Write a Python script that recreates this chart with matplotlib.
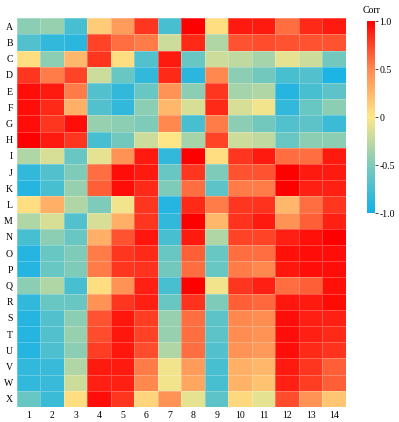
import numpy as np
import matplotlib.pyplot as plt
from matplotlib.colors import LinearSegmentedColormap

rows = list("ABCDEFGHIJKLMNOPQRSTUVWX")
cols = [str(i) for i in range(1, 15)]

A = [-0.45, -0.4, -0.75, 0.15, 0.4, 0.8, -0.75, 1.0, 0.05, 0.9, 0.9, 0.6, 0.85, 0.9]
B = [-0.7, -0.85, -0.88, 0.75, 0.6, 0.55, -0.2, 0.85, -0.3, 0.7, 0.72, 0.7, 0.7, 0.7]
C = [0.05, -0.45, 0.25, 0.8, 0.05, -0.7, 0.9, -0.6, -0.2, -0.25, -0.35, -0.1, -0.2, -0.55]
D = [0.8, 0.55, 0.75, -0.2, -0.6, -0.85, 0.85, -0.88, 0.5, -0.45, -0.55, -0.75, -0.7, -0.95]
E = [0.95, 0.9, 0.55, -0.7, -0.85, -0.6, 0.45, -0.45, 0.8, -0.35, -0.3, -0.9, -0.75, -0.65]
F = [0.95, 0.85, 0.3, -0.7, -0.85, -0.45, 0.25, -0.15, 0.85, -0.15, -0.05, -0.85, -0.6, -0.45]
G = [0.95, 0.8, 0.95, -0.4, -0.45, -0.5, 0.5, -0.75, 0.55, -0.45, -0.55, -0.7, -0.65, -0.8]
H = [1.0, 0.9, 0.8, -0.75, -0.55, -0.2, 0.0, -0.35, 0.75, -0.2, -0.25, -0.6, -0.45, -0.45]
I = [-0.3, -0.15, -0.6, -0.1, 0.45, 0.9, -0.85, 1.0, 0.05, 0.8, 0.9, 0.6, 0.6, 0.9]
J = [-0.85, -0.7, -0.5, 0.6, 0.95, 0.9, -0.6, 0.8, -0.5, 0.7, 0.7, 1.0, 0.9, 0.9]
K = [-0.9, -0.75, -0.4, 0.65, 0.95, 0.85, -0.5, 0.6, -0.65, 0.55, 0.55, 1.0, 0.88, 0.88]
L = [0.05, 0.3, -0.3, -0.5, -0.05, 0.8, -0.9, 0.85, 0.55, 0.8, 0.82, 0.25, 0.6, 0.8]
M = [-0.3, -0.15, -0.7, -0.15, 0.3, 0.8, -0.85, 1.0, 0.25, 0.82, 0.9, 0.45, 0.65, 0.88]
N = [-0.75, -0.45, -0.6, 0.3, 0.7, 0.92, -0.75, 0.9, -0.3, 0.75, 0.75, 0.88, 0.93, 1.0]
O = [-0.9, -0.6, -0.5, 0.55, 0.8, 0.85, -0.6, 0.65, -0.6, 0.6, 0.6, 0.93, 0.95, 0.95]
P = [-0.9, -0.6, -0.5, 0.55, 0.8, 0.82, -0.55, 0.6, -0.6, 0.55, 0.5, 0.92, 0.95, 0.95]
Q = [-0.45, -0.3, -0.75, 0.05, 0.45, 0.88, -0.75, 1.0, -0.05, 0.8, 0.88, 0.6, 0.65, 0.93]
R = [-0.85, -0.6, -0.6, 0.45, 0.8, 0.88, -0.6, 0.82, -0.5, 0.65, 0.62, 0.92, 0.9, 0.96]
S = [-0.9, -0.7, -0.45, 0.7, 0.92, 0.78, -0.4, 0.6, -0.65, 0.5, 0.48, 0.95, 0.88, 0.88]
T = [-0.9, -0.7, -0.4, 0.72, 0.92, 0.76, -0.4, 0.6, -0.65, 0.48, 0.45, 0.95, 0.88, 0.85]
U = [-0.9, -0.72, -0.45, 0.78, 0.92, 0.72, -0.3, 0.6, -0.7, 0.45, 0.42, 0.95, 0.85, 0.82]
V = [-0.85, -0.82, -0.3, 0.9, 0.9, 0.55, -0.05, 0.4, -0.75, 0.3, 0.25, 0.9, 0.8, 0.65]
W = [-0.85, -0.82, -0.2, 0.88, 0.88, 0.5, -0.05, 0.35, -0.75, 0.28, 0.2, 0.88, 0.78, 0.65]
X = [-0.6, -0.8, 0.05, 0.95, 0.8, 0.1, 0.45, -0.1, -0.65, 0.08, -0.1, 0.72, 0.45, 0.18]

data = np.array([A, B, C, D, E, F, G, H, I, J, K, L, M, N, O, P, Q, R, S, T, U, V, W, X])

plt.rcParams['font.family'] = ['Liberation Serif', 'DejaVu Serif']

cmap = LinearSegmentedColormap.from_list(
    "corr", ["#12b0ea", "#7ecbb9", "#fee787", "#ff8a50", "#ff0000"])

fig = plt.figure(figsize=(3.99, 4.22), dpi=100)
ax = fig.add_axes([0.0426, 0.0355, 0.8244, 0.9215])
mesh = ax.pcolormesh(data, cmap=cmap, vmin=-1, vmax=1,
                     edgecolors=(1, 1, 1, 0.25), linewidth=0.4)
ax.set_xlim(0, len(cols))
ax.set_ylim(len(rows), 0)
ax.set_xticks(np.arange(len(cols)) + 0.5)
ax.set_xticklabels(cols, fontsize=7)
ax.set_yticks(np.arange(len(rows)) + 0.5)
ax.set_yticklabels(rows, fontsize=7)
ax.tick_params(length=0, pad=3)
for s in ax.spines.values():
    s.set_visible(False)

cax = fig.add_axes([0.920, 0.495, 0.020, 0.455])
cb = fig.colorbar(mesh, cax=cax, ticks=[-1, -0.5, 0, 0.5, 1])
cb.ax.set_yticklabels(["-1.0", "-0.5", "0", "0.5", "1.0"], fontsize=7)
cb.ax.tick_params(length=2, width=0.5, pad=1)
cb.outline.set_visible(False)
cax.set_title("Corr", fontsize=7, pad=6)

fig.savefig("out.png", dpi=100)
